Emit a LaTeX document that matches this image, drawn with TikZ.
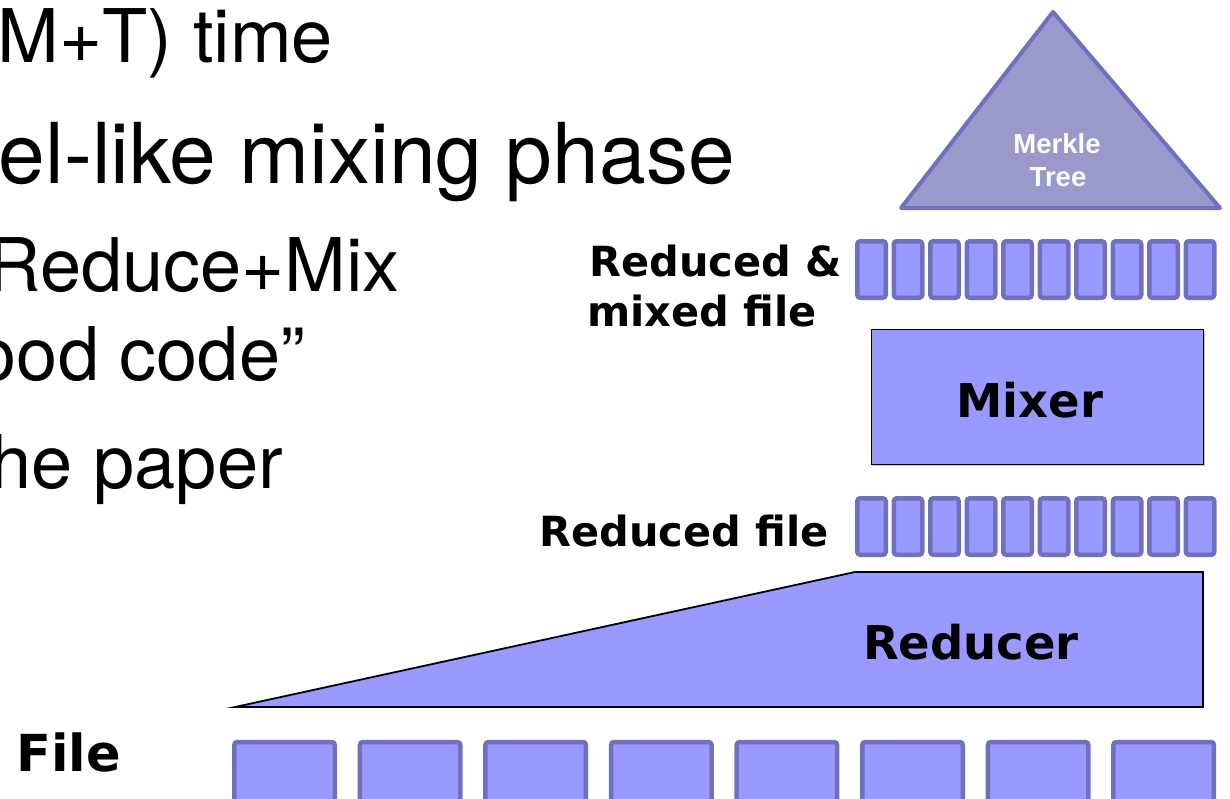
\documentclass[tikz,border=0pt]{standalone}
\usepackage{fontspec}
\setmainfont{TeX Gyre Heros}
\newfontfamily\labelfont{DejaVu Sans}
\newfontfamily\treefont{Liberation Sans}
\definecolor{cellfill}{RGB}{153,153,255}
\definecolor{cellborder}{RGB}{112,112,188}
\definecolor{treefill}{RGB}{153,153,204}
\definecolor{treeborder}{RGB}{112,112,192}
\definecolor{shadowgray}{RGB}{200,200,200}
\tikzset{
  cell/.style={draw=cellborder, fill=cellfill, line width=4.5pt, rounded corners=3pt, inner sep=0pt},
  smallcell/.style={cell, minimum width=28.5pt, minimum height=56.5pt},
  bigcell/.style={cell, minimum width=100.5pt, minimum height=64pt},
  block/.style={draw=black, fill=cellfill, line width=1.8pt, line join=miter},
  tree/.style={draw=treeborder, fill=treefill, line width=4pt, line join=round},
  bullet/.style={inner sep=0pt, anchor=base east, font=\fontsize{74}{74}\selectfont},
  bigbullet/.style={inner sep=0pt, anchor=base east, font=\fontsize{84}{84}\selectfont},
  lbl/.style={inner sep=0pt, font=\labelfont\bfseries\fontsize{41.5}{50}\selectfont},
  blocklbl/.style={inner sep=0pt, anchor=base, font=\labelfont\bfseries\fontsize{46.5}{50}\selectfont},
  treelbl/.style={inner sep=0pt, anchor=base, text=white, font=\treefont\bfseries\fontsize{27.5}{30}\selectfont}
}
\begin{document}
\begin{tikzpicture}[x=1pt,y=-1pt]
\useasboundingbox (0,0) rectangle (1230,798);
\clip (0,0) rectangle (1230,798);

% slide text (cut at left edge)
\node[bullet] (t1) at (333,62) {M+T) time};
\node[bigbullet] (t2) at (735,183) {el-like mixing phase};
\node[bullet] (t3) at (400,291) {Reduce+Mix};
\node[bullet] (t4) at (305,380) {ood code”};
\node[bullet] (t5) at (283,488) {he paper};

% Merkle tree
\coordinate (apex) at (1053,12);
\coordinate (bl) at (901,208);
\coordinate (br) at (1220,208);
\draw[tree] (apex) -- (br) -- (bl) -- cycle;
\node[treelbl] (merkle) at (1057,153) {Merkle};
\node[treelbl] (treetxt) at (1058,186) {Tree};

% reduced & mixed file
\foreach \i in {0,...,9} {
  \node[smallcell] (rm\i) at ({871.5+\i*36.5},269.5) {};
}
\node[lbl, anchor=base west] (rmlabel1) at (589,276) {Reduced \&};
\node[lbl, anchor=base west] (rmlabel2) at (587,326) {mixed file};

% mixer
\fill[shadowgray] (872.5,330.5) rectangle (1204.5,465.5);
\node[block, minimum width=332pt, minimum height=135pt, inner sep=0pt] (mixer) at (1037.5,397) {};
\node[blocklbl] (mixertxt) at (1030,417) {Mixer};

% reduced file
\foreach \i in {0,...,9} {
  \node[smallcell] (r\i) at ({871.5+\i*36.5},526.5) {};
}
\node[lbl, anchor=base west] (rlabel) at (539,546) {Reduced file};

% reducer
\coordinate (rtip) at (235,707);
\coordinate (rtl) at (855,572);
\coordinate (rtr) at (1203,572);
\coordinate (rbr) at (1203,707);
\fill[shadowgray, shift={(1.2,1.2)}] (rtip) -- (rtl) -- (rtr) -- (rbr) -- cycle;
\draw[block] (rtip) -- (rtl) -- (rtr) -- (rbr) -- cycle;
\node[blocklbl] (reducertxt) at (971,659) {Reducer};

% file
\foreach \i in {0,...,7} {
  \node[bigcell] (f\i) at ({284.5+\i*125.6},774) {};
}
\node[lbl, anchor=base west, font=\labelfont\bfseries\fontsize{51}{52}\selectfont] (flabel) at (16,771) {File};
\end{tikzpicture}
\end{document}
